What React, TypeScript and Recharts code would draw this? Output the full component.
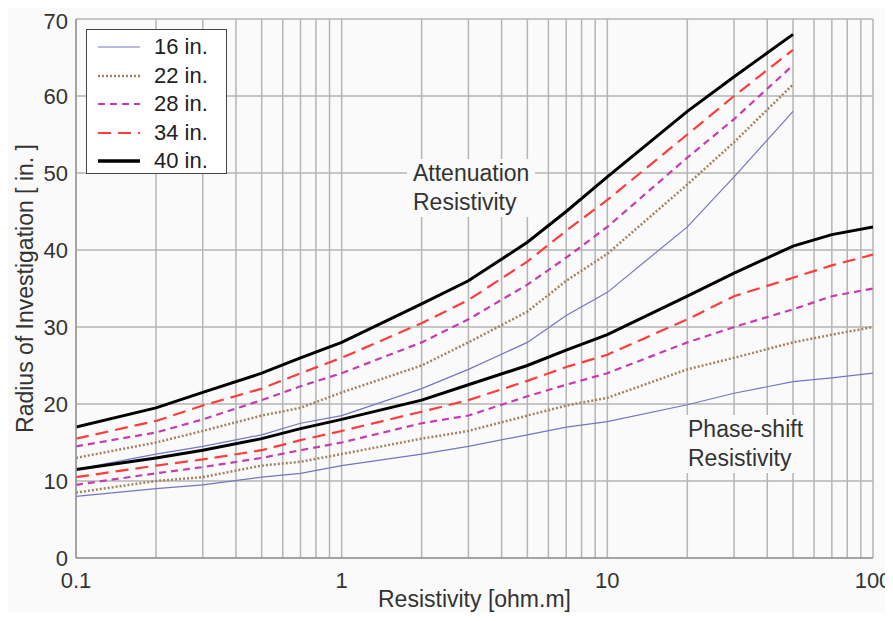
import React from 'react';
import { LineChart, Line, XAxis, YAxis, CartesianGrid, Label } from 'recharts';

// resistivity sample points (ohm.m)
const attenuationX = [0.1, 0.2, 0.3, 0.5, 0.7, 1, 2, 3, 5, 7, 10, 20, 30, 50];
const phaseX = [0.1, 0.2, 0.3, 0.5, 0.7, 1, 2, 3, 5, 7, 10, 20, 30, 50, 70, 100];

// attenuation resistivity, radius of investigation [in.]
const att16 = [11.5, 13.5, 14.5, 16, 17.5, 18.5, 22, 24.5, 28, 31.5, 34.5, 43, 49.5, 58];
const att22 = [13, 15, 16.5, 18.5, 19.5, 21.5, 25, 28, 32, 36, 39.5, 48.5, 54, 61.5];
const att28 = [14.5, 16.3, 18, 20.5, 22.3, 24, 28, 31, 35.5, 39, 43, 52, 57, 64];
const att34 = [15.5, 17.8, 19.8, 22, 24, 26, 30.5, 33.5, 38.5, 42.5, 46.5, 55, 60, 66];
const att40 = [17, 19.5, 21.5, 24, 26, 28, 33, 36, 41, 45, 49.5, 58, 62.5, 68];

// phase-shift resistivity
const ps16 = [8, 9, 9.5, 10.5, 11, 12, 13.5, 14.5, 16, 17, 17.7, 19.9, 21.4, 22.9, 23.4, 24];
const ps22 = [8.5, 10, 10.5, 12, 12.5, 13.5, 15.5, 16.5, 18.5, 19.8, 20.8, 24.5, 26, 28, 29, 30];
const ps28 = [9.5, 11, 11.8, 13, 14, 15, 17.5, 18.5, 21, 22.5, 24, 28, 30, 32.3, 34, 35];
const ps34 = [10.5, 12, 12.8, 14, 15.3, 16.5, 19, 20.5, 23, 24.8, 26.4, 31, 34, 36.4, 38, 39.4];
const ps40 = [11.5, 13, 14, 15.5, 16.8, 18, 20.5, 22.5, 25, 27, 29, 34, 37, 40.5, 42, 43];

const xGridTicks = [
  0.1, 0.2, 0.3, 0.4, 0.5, 0.6, 0.7, 0.8, 0.9,
  1, 2, 3, 4, 5, 6, 7, 8, 9,
  10, 20, 30, 40, 50, 60, 70, 80, 90, 100,
];
const xLabelTicks = [0.1, 1, 10, 100];
const yTicks = [0, 10, 20, 30, 40, 50, 60, 70];

const series = [
  { name: '16 in.', att: att16, ps: ps16, color: '#7276c2', width: 1.2, dash: undefined },
  { name: '22 in.', att: att22, ps: ps22, color: '#a5825f', width: 2.5, dash: '2 2' },
  { name: '28 in.', att: att28, ps: ps28, color: '#c73bb0', width: 2.2, dash: '7 5' },
  { name: '34 in.', att: att34, ps: ps34, color: '#ff3b3b', width: 2.2, dash: '13 7' },
  { name: '40 in.', att: att40, ps: ps40, color: '#000000', width: 3, dash: undefined },
];

const toPoints = (xs: number[], ys: number[]) => xs.map((x, i) => ({ x, y: ys[i] }));

const font = 'Liberation Sans, Arial, Helvetica, sans-serif';
const bg = '#fafafa';

const LegendBox = () => (
  <div
    style={{
      position: 'absolute',
      left: 78,
      top: 21,
      width: 141,
      height: 145,
      boxSizing: 'border-box',
      background: '#fff',
      border: '1px solid #444',
      paddingTop: 3,
      fontFamily: font,
      fontSize: 22,
      color: '#222',
    }}
  >
    {series.map((s) => (
      <div key={s.name} style={{ display: 'flex', alignItems: 'center', height: 28.5 }}>
        <svg width={67} height={10} style={{ flex: 'none' }}>
          <line
            x1={11}
            x2={53}
            y1={5}
            y2={5}
            stroke={s.color}
            strokeWidth={s.name === '40 in.' ? 3.5 : s.width}
            strokeDasharray={s.dash}
          />
        </svg>
        <span>{s.name}</span>
      </div>
    ))}
  </div>
);

const noteStyle: React.CSSProperties = {
  position: 'absolute',
  background: bg,
  fontFamily: font,
  fontSize: 23,
  lineHeight: '29px',
  color: '#333',
  padding: '0 6px',
};

export default function App() {
  return (
    <div style={{ position: 'relative', width: 885, height: 605, background: bg }}>
      <LineChart width={885} height={605} margin={{ top: 11, right: 20, bottom: 0, left: 0 }}>
        <CartesianGrid stroke="#b5b5b5" strokeWidth={1.5} fill={bg} />
        <XAxis
          dataKey="x"
          type="number"
          scale="log"
          domain={[0.1, 100]}
          ticks={xGridTicks}
          interval={0}
          allowDataOverflow
          tickFormatter={(v: number) => (xLabelTicks.includes(v) ? String(v) : '')}
          tickLine={false}
          tickSize={12}
          axisLine={{ stroke: '#999', strokeWidth: 1.5 }}
          tick={{ fontSize: 22, fill: '#333', fontFamily: font }}
          height={55}
        >
          <Label
            value="Resistivity [ohm.m]"
            position="insideBottom"
            offset={6}
            style={{ fontSize: 23, fill: '#333', fontFamily: font }}
          />
        </XAxis>
        <YAxis
          type="number"
          domain={[0, 70]}
          ticks={yTicks}
          tickLine={false}
          tickSize={6}
          axisLine={{ stroke: '#999', strokeWidth: 1.5 }}
          tick={{ fontSize: 22, fill: '#333', fontFamily: font }}
          width={68}
        >
          <Label
            value="Radius of Investigation [ in. ]"
            angle={-90}
            position="insideLeft"
            offset={17}
            style={{ fontSize: 23, fill: '#333', fontFamily: font, textAnchor: 'middle' }}
          />
        </YAxis>
        {series.map((s) => (
          <Line
            key={'att' + s.name}
            data={toPoints(attenuationX, s.att)}
            dataKey="y"
            name={s.name}
            type="linear"
            stroke={s.color}
            strokeWidth={s.width}
            strokeDasharray={s.dash}
            dot={false}
            isAnimationActive={false}
          />
        ))}
        {series.map((s) => (
          <Line
            key={'ps' + s.name}
            data={toPoints(phaseX, s.ps)}
            dataKey="y"
            name={s.name + ' phase'}
            type="linear"
            stroke={s.color}
            strokeWidth={s.width}
            strokeDasharray={s.dash}
            dot={false}
            isAnimationActive={false}
          />
        ))}
      </LineChart>
      <LegendBox />
      <div style={{ ...noteStyle, left: 399, top: 151 }}>
        Attenuation
        <br />
        Resistivity
      </div>
      <div style={{ ...noteStyle, left: 674, top: 407 }}>
        Phase-shift
        <br />
        Resistivity
      </div>
    </div>
  );
}
